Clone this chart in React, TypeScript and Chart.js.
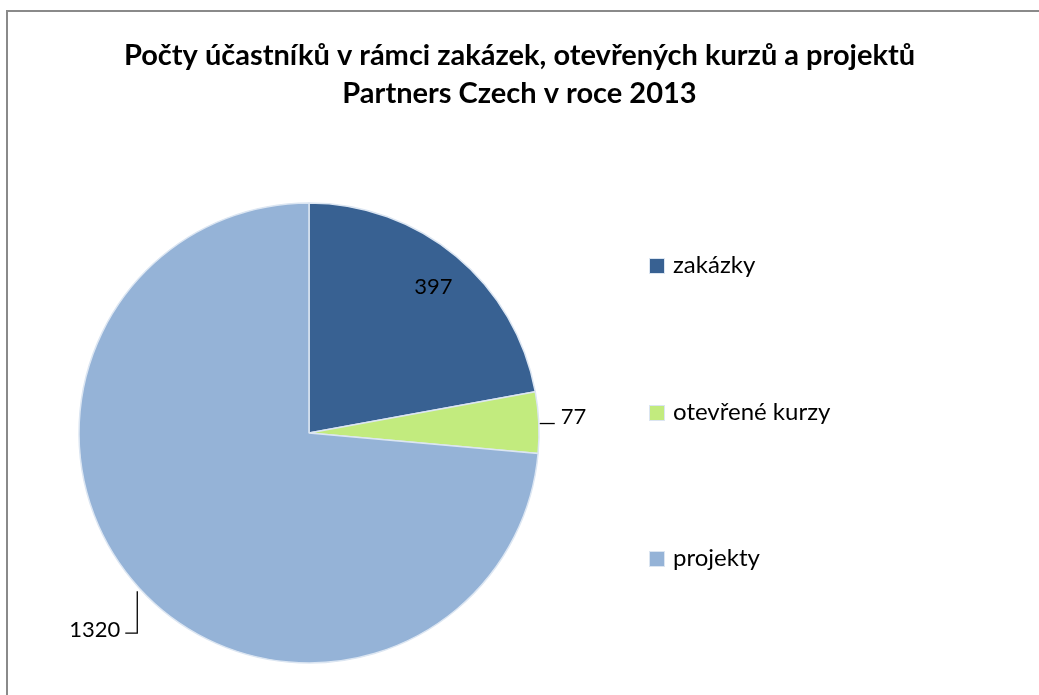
import React, { useEffect, useRef } from "react";
import { Chart, registerables } from "chart.js";

Chart.register(...registerables);

const titleLines = [
  "Počty účastníků v rámci zakázek, otevřených kurzů a projektů",
  "Partners Czech v roce 2013",
];
const categories = ["zakázky", "otevřené kurzy", "projekty"];
const participants = [397, 77, 1320];
const sliceColors = ["#386192", "#C2EB7E", "#95B3D7"];

const FONT = "Lato, 'Open Sans', sans-serif";

const W = 1039;
const H = 695;
const PIE_CX = 309;
const PIE_CY = 433;
const PIE_R = 230;

const areaPlugin = {
  id: "pieArea",
  afterLayout(chart: any) {
    const half = PIE_R + 4;
    chart.chartArea = {
      left: PIE_CX - half,
      right: PIE_CX + half,
      top: PIE_CY - half,
      bottom: PIE_CY + half,
      width: half * 2,
      height: half * 2,
    };
  },
};

const labelPlugin = {
  id: "pieLabels",
  afterDraw(chart: any) {
    const ctx = chart.ctx;
    const meta = chart.getDatasetMeta(0);
    const ds = chart.data.datasets[0];
    ctx.save();
    ctx.fillStyle = "#000";
    ctx.strokeStyle = "#000";
    ctx.lineWidth = 1.3;
    ctx.font = `22px ${FONT}`;
    meta.data.forEach((arc: any, i: number) => {
      const { x, y, outerRadius, startAngle, endAngle } = arc.getProps(
        ["x", "y", "outerRadius", "startAngle", "endAngle"],
        true
      );
      const mid = (startAngle + endAngle) / 2;
      const cos = Math.cos(mid);
      const sin = Math.sin(mid);
      const text = String(ds.data[i]);
      if (i === 0) {
        const d = outerRadius * 0.83;
        ctx.textAlign = "center";
        ctx.textBaseline = "middle";
        ctx.fillText(text, x + cos * d + 2, y + sin * d + 1);
      } else if (i === 1) {
        const ex = x + cos * outerRadius;
        const ey = y + sin * outerRadius;
        ctx.beginPath();
        ctx.moveTo(ex + 1, ey + 1);
        ctx.lineTo(ex + 16, ey + 1);
        ctx.stroke();
        ctx.textAlign = "left";
        ctx.textBaseline = "middle";
        ctx.fillText(text, ex + 22, ey - 6);
      } else {
        const ex = x + cos * outerRadius;
        const ey = y + sin * outerRadius;
        ctx.beginPath();
        ctx.moveTo(ex - 2, ey + 3);
        ctx.lineTo(ex - 2, ey + 45);
        ctx.lineTo(ex - 14, ey + 45);
        ctx.stroke();
        ctx.textAlign = "right";
        ctx.textBaseline = "middle";
        ctx.fillText(text, ex - 19, ey + 42);
      }
    });

    // legend
    const lx = 650;
    const ys = [266, 413, 559];
    ctx.font = `24px ${FONT}`;
    ctx.textAlign = "left";
    ctx.textBaseline = "middle";
    chart.data.labels.forEach((lab: string, i: number) => {
      const col = ds.backgroundColor[i];
      ctx.fillStyle = "#dbe5f1";
      ctx.fillRect(lx - 1, ys[i] - 8, 16, 16);
      ctx.fillStyle = col;
      ctx.fillRect(lx, ys[i] - 7, 14, 14);
      ctx.fillStyle = "#000";
      ctx.fillText(lab, lx + 23, ys[i] - 1);
    });
    ctx.restore();
  },
};

export default function App() {
  const ref = useRef<HTMLCanvasElement | null>(null);
  useEffect(() => {
    if (!ref.current) return;
    const chart = new Chart(ref.current, {
      type: "pie",
      data: {
        labels: categories,
        datasets: [
          {
            data: participants,
            backgroundColor: sliceColors,
            borderColor: "#dce6f2",
            borderWidth: 1.5,
            radius: PIE_R,
          } as any,
        ],
      },
      options: {
        responsive: false,
        animation: false,
        devicePixelRatio: 1,
        layout: { padding: 0 },
        plugins: {
          legend: { display: false },
          tooltip: { enabled: false },
          title: {
            display: true,
            text: titleLines,
            color: "#000",
            font: { family: FONT, size: 29, weight: "bold", lineHeight: 1.31 },
            padding: { top: 37, bottom: 20 },
          },
        },
      },
      plugins: [areaPlugin, labelPlugin],
    });
    return () => chart.destroy();
  }, []);

  return (
    <div
      style={{
        position: "absolute",
        left: 0,
        top: 0,
        width: W,
        height: H,
        overflow: "hidden",
        background: "#fff",
      }}
    >
      <div
        style={{
          position: "absolute",
          left: 6,
          top: 10,
          width: W + 40,
          height: H + 40,
          border: "2px solid #8a8a8a",
        }}
      />
      <canvas
        ref={ref}
        width={W}
        height={H}
        style={{ position: "absolute", left: 0, top: 0, width: W, height: H }}
      />
    </div>
  );
}
